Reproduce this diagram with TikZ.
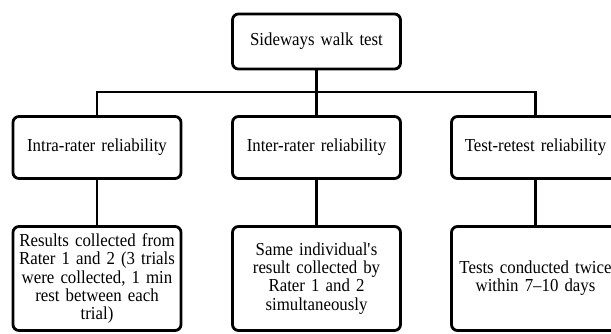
\documentclass[tikz,border=0pt]{standalone}
\usepackage{fontspec}
\setmainfont{Liberation Serif}[FakeStretch=0.92]
\begin{document}
\begin{tikzpicture}[x=1pt,y=-1pt,
  box/.style={draw=black,line width=2.8pt,rounded corners=6pt,fill=white,
    minimum width=168pt,inner sep=0pt,align=center,text width=166pt,
    font=\fontsize{18.3}{18.2}\selectfont},
  conn/.style={draw=black,line width=2.8pt}]
\useasboundingbox (0,0) rectangle (611,333);
\node[box,minimum height=55pt] (top) at (316.5,41.5) {Sideways walk test};
\node[box,minimum height=62pt] (m1) at (97,147.5) {Intra-rater reliability};
\node[box,minimum height=62pt] (m2) at (316.5,147.5) {Inter-rater reliability};
\node[box,minimum height=62pt] (m3) at (535.5,147.5) {Test-retest reliability};
\node[box,minimum height=104pt] (b1) at (97,278.5) {Results collected from\\Rater 1 and 2 (3 trials\\were collected, 1 min\\rest between each\\trial)};
\node[box,minimum height=104pt] (b2) at (316.5,278.5) {Same individual\textquotesingle s\\result collected by\\Rater 1 and 2\\simultaneously};
\node[box,minimum height=104pt] (b3) at (535.5,278.5) {Tests conducted twice\\within 7--10 days};
\coordinate (j) at (316.5,92);
\draw[conn] (top.south) -- (j);
\draw[conn] (m1.north) |- (j) -| (m3.north);
\draw[conn] (j) -- (m2.north);
\draw[conn] (m1.south) -- (b1.north);
\draw[conn] (m2.south) -- (b2.north);
\draw[conn] (m3.south) -- (b3.north);
\end{tikzpicture}
\end{document}
